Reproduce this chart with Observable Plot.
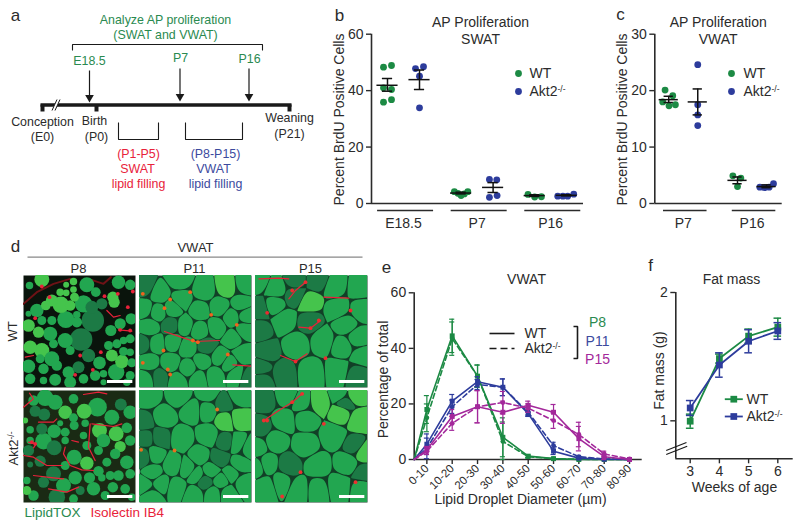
<!DOCTYPE html>
<html><head><meta charset="utf-8">
<script src="https://cdn.jsdelivr.net/npm/d3@7"></script>
<script src="https://cdn.jsdelivr.net/npm/@observablehq/plot@0.6"></script>
<style>
html,body{margin:0;padding:0;background:#fff;}
#fig{position:relative;width:800px;height:527px;overflow:hidden;font-family:"Liberation Sans",Arial,sans-serif;}
#fig svg{position:absolute;}
</style></head><body><div id="fig"></div>
<script>
// ---------- palette
const GREEN="#1c8a44",BLUE="#2d3c9c",PURPLE="#a3289b",RED="#e8223a",INK="#2b2b2b";
const TGREEN="#2a8a50",TBLUE="#3c4a9e";
const SHADES=["#1c7a45","#22a650","#45c44c"];

// ---------- panel b values (SWAT)
const swatGroups=["E18.5","P7","P16"];
const swatSlots=[0,1,2.3,3.3,4.6,5.6];
const swatValues=[[48.3,48.9,41,40.4,35.9,36.8],[47.8,48.5,45.1,33.9],[4.2,3.6,2.8,3.4,4.2],[8.5,8.4,2.2,2.8],[3.2,2.3,2.4],[2.6,2.6,2.6,3.3]];
const swatJitter=[[-.125,.125,-.125,.125,-.125,.125],[-.125,.125,0,0],[-.21,-.1,0,.1,.21],[-.115,.115,-.115,.125],[-.21,0,.21],[-.28,-.12,.03,.22]];
const swatMean=[41.9,43.9,3.7,5.7,2.8,2.9];
const swatLow=[39.8,40.4,3.4,3.9,2.5,2.7];
const swatHigh=[44.3,47.3,4.0,7.4,3.1,3.1];

// ---------- panel c values (VWAT)
const vwatGroups=["P7","P16"];
const vwatSlots=[0,1,2.37,3.37];
const vwatValues=[[20.1,19.1,18.0,17.3,17.5],[24.6,17.5,15.7,13.8],[4.9,4.5,3.0],[2.9,2.8,2.9,3.5]];
const vwatJitter=[[-.126,.138,-.207,.01,.23],[0,0,0,0],[-.16,.115,0],[-.23,-.07,.09,.24]];
const vwatMean=[18.4,18,4.1,3.0];
const vwatLow=[17.9,15.7,3.5,2.8];
const vwatHigh=[19.0,20.3,4.7,3.3];

// ---------- panel e values
const bins=["0-10","10-20","20-30","30-40","40-50","50-60","60-70","70-80","80-90"];
const p8Wt=[18,44.5,30,8,1.2,.3,0,0,0];
const p8Ko=[15,43.5,30,6.5,1,.3,.1,0,0];
const p8Err=[5,6,4,7,.5,.2,.1,0,0];
const p11Wt=[5.5,21,28,26,16.5,3,.5,.1,0];
const p11Ko=[4,19,27,26,17,5,1,.2,0];
const p11Err=[3.7,2.4,1.8,3,1,1.2,.4,.1,0];
const p15Wt=[3.5,15.5,19,17,19.5,17,7.5,1,0];
const p15Ko=[3,13,19,20.5,18.5,14,9,2,.2];
const p15Err=[1.2,2.5,5.8,4,1.5,2.8,4.4,1,.2];

// ---------- panel f values
const weeks=[3,4,5,6];
const fatWt=[.997,1.485,1.66,1.73];
const fatWtErr=[.055,.035,.055,.07];
const fatKo=[1.10,1.435,1.62,1.70];
const fatKoErr=[.058,.095,.09,.065];

// ---------- micrograph cells [x, y, shade] and droplets [x, y, radius, shade]
const p8WtDrops=[[55,12,20,2],[18,30,10,1],[150,18,10,2],[190,28,20,1],[217,50,13,1],[285,20,18,1],[320,28,14,1],[128,28,8,2],[150,42,9,2],[110,50,10,2],[128,52,9,2],[153,65,12,2],[85,75,16,2],[112,88,22,2],[67,90,13,2],[140,90,14,2],[180,85,23,1],[205,95,17,0],[268,65,15,2],[272,80,15,2],[235,85,15,0],[323,130,15,1],[40,105,18,1],[15,115,8,1],[15,150,17,2],[55,135,12,1],[85,135,12,1],[127,132,23,1],[160,118,10,1],[160,140,14,1],[208,135,30,0],[290,145,15,1],[45,170,15,2],[80,175,19,1],[125,195,20,1],[173,192,30,0],[20,215,18,2],[55,225,20,2],[90,205,12,1],[140,225,12,1],[262,165,15,1],[255,210,12,1],[280,205,12,1],[300,195,10,1],[320,190,12,1],[300,228,12,1],[265,240,16,2],[320,230,10,1],[195,240,18,0],[228,262,17,1],[295,258,18,2],[325,262,12,1],[15,272,18,1],[50,250,12,1],[85,250,20,1],[60,280,14,1],[100,270,14,1],[135,290,16,1],[165,275,16,0],[20,310,14,1],[95,313,16,1],[60,315,10,1],[140,320,16,1],[180,310,13,1],[215,300,14,1],[240,295,10,1],[278,290,22,1],[320,300,12,1],[240,320,8,1],[310,320,10,1]];
const p8WtSpots=[[55,33],[78,65],[243,62],[283,55],[328,48],[313,95],[290,163],[320,165],[170,240],[155,298],[232,230],[35,128],[208,283]];
const p8WtVeins=[[[285,163],[325,167]],[[250,105],[270,125],[290,120]],[[5,245],[30,240]]];
const p8WtFaint=[[[0,85],[40,50],[90,25],[140,10]],[[195,10],[240,25],[262,5]]];
const p8KoDrops=[[65,22,22,1],[30,30,14,1],[95,35,20,1],[150,25,13,1],[222,50,25,1],[292,42,16,0],[125,65,18,2],[182,62,20,2],[265,80,20,1],[320,65,18,1],[35,62,15,0],[62,72,16,0],[150,82,12,1],[5,90,8,2],[110,98,8,1],[185,98,10,1],[20,118,10,1],[55,115,15,0],[92,122,18,1],[125,125,12,1],[152,105,12,1],[228,120,20,2],[310,112,14,1],[278,130,20,2],[60,152,22,1],[20,150,10,1],[125,150,10,1],[180,135,10,1],[240,150,18,1],[290,168,15,2],[320,150,14,1],[92,172,20,0],[152,200,20,1],[190,165,12,1],[225,180,12,1],[275,190,14,1],[15,180,15,0],[50,212,15,0],[190,218,18,2],[310,215,18,1],[250,215,12,1],[90,250,20,0],[225,242,14,1],[125,225,12,1],[260,255,12,1],[285,255,14,1],[320,250,13,1],[20,222,8,0],[155,262,18,1],[198,262,15,1],[60,275,15,0],[120,285,20,1],[10,270,10,1],[235,262,10,1],[268,290,14,1],[305,295,13,1],[10,300,12,2],[210,295,18,1],[170,300,12,0],[100,320,22,0],[30,315,14,1],[150,325,12,1],[245,315,12,1],[325,320,10,1]];
const p8KoSpots=[[25,155],[35,160]];
const p8KoVeins=[[[0,50],[30,25],[18,8]],[[45,95],[90,95],[100,85]],[[15,155],[38,160],[30,172]],[[125,170],[120,190],[140,225],[175,238],[210,240]],[[200,100],[195,170],[215,210]],[[205,100],[270,108],[295,100]],[[30,255],[90,262],[120,265]],[[75,295],[130,305],[165,290]],[[145,150],[165,155]],[[0,195],[30,200],[70,225],[115,225]],[[180,12],[225,5],[250,10]]];
const p11WtCells=[[60,55,1],[125,72,1],[120,15,1],[195,45,1],[262,35,2],[315,30,1],[305,85,1],[240,95,1],[15,35,0],[15,100,1],[55,110,1],[100,100,1],[180,105,1],[275,125,1],[320,120,1],[30,155,1],[95,150,0],[135,150,1],[180,165,1],[232,155,1],[315,165,1],[282,190,1],[50,205,1],[100,200,1],[145,215,1],[200,215,0],[240,245,1],[190,255,1],[12,205,0],[30,260,1],[92,262,1],[145,280,1],[270,265,1],[310,235,1],[60,305,0],[20,310,1],[115,315,1],[175,310,1],[225,300,1],[290,295,1],[325,305,0]];
const p11WtSpots=[[152,50],[92,72],[75,98],[215,118],[292,148],[160,195],[175,200],[72,225],[265,237],[10,262],[85,282],[92,297],[10,55]];
const p11WtVeins=[[[75,168],[125,185],[165,198],[240,195]],[[280,268],[335,272]]];
const p15WtCells=[[60,40,1],[160,78,2],[240,35,1],[310,40,1],[55,88,1],[12,100,0],[88,135,1],[250,100,1],[270,145,1],[315,100,1],[12,165,0],[125,205,1],[200,195,1],[305,190,1],[262,215,1],[30,230,0],[318,240,1],[165,290,1],[85,295,0],[250,285,1],[15,275,0],[20,315,0],[300,295,0],[160,140,0],[120,15,0],[185,15,0],[10,20,1],[120,60,0]];
const p15WtSpots=[[165,158],[35,112],[150,20],[110,45],[190,135],[120,258],[210,248],[285,105]];
const p15WtVeins=[[[10,10],[70,8],[100,10]],[[150,20],[120,45],[100,70]],[[130,155],[165,158],[195,135]],[[205,65],[280,68]],[[75,240],[120,258],[155,235]]];
const p11KoCells=[[25,20,1],[120,15,1],[205,8,1],[295,20,1],[70,80,1],[160,60,1],[200,60,1],[255,38,0],[260,90,2],[295,85,2],[15,95,0],[128,145,1],[205,135,1],[258,155,0],[295,160,1],[60,140,0],[20,140,0],[325,175,1],[180,195,1],[240,205,0],[45,195,1],[15,200,0],[100,225,1],[145,235,1],[215,240,1],[300,220,1],[40,245,1],[170,255,1],[65,280,1],[110,290,1],[195,275,0],[245,270,1],[275,250,1],[15,285,1],[35,315,1],[165,310,1],[220,310,1],[310,280,1],[265,310,1]];
const p11KoSpots=[[233,57],[105,180],[5,178]];
const p15KoCells=[[25,30,0],[95,15,1],[190,35,2],[255,10,1],[295,15,2],[140,35,1],[270,35,0],[85,90,1],[150,85,1],[258,70,2],[308,90,2],[15,110,0],[235,135,1],[60,150,1],[150,165,1],[298,165,0],[325,185,2],[5,170,1],[35,220,1],[100,225,0],[185,225,1],[275,220,1],[5,230,1],[30,290,1],[80,275,1],[130,295,1],[185,295,1],[250,285,1],[318,290,1],[325,250,0]];
const p15KoSpots=[[140,10],[25,90],[205,100],[80,318],[135,245],[300,275],[35,90],[110,35]];
const p15KoVeins=[[[25,90],[70,60],[110,35],[140,10]]];

// ---------- helpers
const fig=document.getElementById("fig");
function place(left,top,opts,filter){
  const el=Plot.plot({...opts,style:{background:"transparent",fontFamily:"'Liberation Sans',Arial,sans-serif",overflow:"visible",...(filter?{filter}:{})}});
  el.style.left=left+"px";el.style.top=top+"px";
  fig.appendChild(el);
  return el;
}
// Voronoi outline of each cell seed, pulled in a little and with its corners rounded
function cellOutlines(cells){
  const v=d3.Delaunay.from(cells,d=>d[0],d=>d[1]).voronoi([-30,-30,366,366]);
  return cells.flatMap((cell,id)=>{
    const poly=v.cellPolygon(id).slice(0,-1);
    const [cx,cy]=d3.polygonCentroid(poly);
    const p=poly.map(([x,y])=>[cx+(x-cx)*.975,cy+(y-cy)*.975]);
    return p.flatMap((a,i)=>{
      const b=p[(i+1)%p.length];
      return [.2,.8].map(t=>({id,x:a[0]+(b[0]-a[0])*t,y:a[1]+(b[1]-a[1])*t,c:SHADES[cell[2]]}));
    });
  });
}
function micro(left,top,{cells,drops,veins=[],faint=[],spots=[],spotFill=RED,bg="#123f27"}){
  const marks=[Plot.frame({fill:bg,stroke:null})];
  if(cells) marks.push(Plot.line(cellOutlines(cells),{x:"x",y:"y",z:"id",fill:"c",stroke:"none",curve:"basis-closed",clip:true}));
  for(const v of faint) marks.push(Plot.line(v,{x:d=>d[0],y:d=>d[1],stroke:"#6e1216",strokeWidth:2,clip:true}));
  if(drops) marks.push(Plot.dot(drops,{x:d=>d[0],y:d=>d[1],r:d=>d[2]/3*1.12,fill:d=>SHADES[d[3]],clip:true}));
  for(const v of veins) marks.push(Plot.line(v,{x:d=>d[0],y:d=>d[1],stroke:RED,strokeWidth:1.2,clip:true}));
  marks.push(Plot.dot(spots,{x:d=>d[0],y:d=>d[1],r:1.9,fill:spotFill,clip:true}));
  marks.push(Plot.ruleY([318],{x1:()=>252,x2:()=>328,stroke:"white",strokeWidth:3}));
  place(left,top,{width:112,height:112,margin:0,x:{domain:[0,336],range:[0,112],axis:null},y:{domain:[0,336],range:[0,112],axis:null},color:{type:"identity"},r:{type:"identity"},marks},"blur(0.4px)");
}
function dotPanel(left,top,w,h,m,xDomain,yMax,yTicks,groups,slots,values,jitter,mean,low,high,bars){
  const points=values.flatMap((vs,i)=>vs.map((v,j)=>({x:slots[i]+jitter[i][j],y:v,k:i%2?"Akt":"WT"})));
  const summary=slots.map((s,i)=>({x:s,mean:mean[i],low:low[i],high:high[i]}));
  const groupData=groups.map((g,i)=>({g,a:slots[i*2]+bars[0],b:slots[i*2+1]+bars[1],c:(slots[i*2]+slots[i*2+1])/2}));
  place(left,top,{width:w,height:h,marginLeft:m[0],marginTop:m[1],marginRight:m[2],marginBottom:m[3],
    x:{domain:xDomain,axis:null},y:{domain:[0,yMax],axis:null},
    marks:[
      Plot.axisY({ticks:yTicks,tickSize:5,tickPadding:3,label:null,fontSize:14,color:INK,strokeWidth:1.4}),
      Plot.ruleX([xDomain[0]],{y1:0,y2:yMax,stroke:INK,strokeWidth:1.6}),
      Plot.ruleY([0],{stroke:INK,strokeWidth:1.6}),
      Plot.ruleY(groupData,{y:()=>0,x1:"a",x2:"b",dy:7,stroke:INK,strokeWidth:1.4}),
      Plot.text(groupData,{x:"c",y:()=>0,text:"g",dy:20,fontSize:14,fill:INK}),
      Plot.dot(points,{x:"x",y:"y",r:3.4,fill:d=>d.k==="WT"?GREEN:BLUE}),
      Plot.ruleY(summary,{y:"mean",x1:d=>d.x-.33,x2:d=>d.x+.33,stroke:"#111",strokeWidth:1.5}),
      Plot.ruleX(summary,{x:"x",y1:"low",y2:"high",stroke:"#111",strokeWidth:1.5}),
      Plot.ruleY(summary,{y:"high",x1:d=>d.x-.16,x2:d=>d.x+.16,stroke:"#111",strokeWidth:1.5}),
      Plot.ruleY(summary,{y:"low",x1:d=>d.x-.16,x2:d=>d.x+.16,stroke:"#111",strokeWidth:1.5})
    ]});
}

// ---------- panels b, c
dotPanel(320,0,265,232,[51,33.7,2,29],[-.5,6.125],60,[0,20,40,60],swatGroups,swatSlots,swatValues,swatJitter,swatMean,swatLow,swatHigh,[-.31,.44]);
dotPanel(585,0,200,232,[69.3,33.7,3.3,29],[-.48,3.91],30,[0,10,20,30],vwatGroups,vwatSlots,vwatValues,vwatJitter,vwatMean,vwatLow,vwatHigh,[-.18,.32]);

// ---------- panel d micrographs
micro(23,275,{drops:p8WtDrops,spots:p8WtSpots,veins:p8WtVeins,faint:p8WtFaint,bg:"#0a140c"});
micro(139,275,{cells:p11WtCells,spots:p11WtSpots,veins:p11WtVeins,spotFill:"#f0641e"});
micro(255,275,{cells:p15WtCells,spots:p15WtSpots,veins:p15WtVeins,spotFill:"#ee2a30"});
micro(23,390,{drops:p8KoDrops,spots:p8KoSpots,veins:p8KoVeins,bg:"#1a2a14"});
micro(139,390,{cells:p11KoCells,spots:p11KoSpots,spotFill:"#e8701e"});
micro(255,390,{cells:p15KoCells,spots:p15KoSpots,veins:p15KoVeins,spotFill:"#ee3030"});

// ---------- panel e
const eSeries=[["P8","WT",p8Wt,p8Err,GREEN],["P8","KO",p8Ko,p8Err,GREEN],["P11","WT",p11Wt,p11Err,BLUE],["P11","KO",p11Ko,p11Err,BLUE],["P15","WT",p15Wt,p15Err,PURPLE],["P15","KO",p15Ko,p15Err,PURPLE]];
const eMarks=[];
for(const [age,geno,vals,errs,color] of eSeries){
  const pts=vals.map((v,i)=>({x:i,y:v,lo:Math.max(0,v-errs[i]),hi:v+errs[i]}));
  const dash=geno==="KO"?"5,3":null;
  eMarks.push(Plot.line([{x:-.5,y:0},...pts],{x:"x",y:"y",stroke:color,strokeWidth:1.6,strokeDasharray:dash}));
  eMarks.push(Plot.ruleX(pts,{x:"x",y1:"lo",y2:"hi",stroke:color,strokeWidth:1.2}));
  eMarks.push(Plot.ruleY(pts,{y:"hi",x1:d=>d.x-.1,x2:d=>d.x+.1,stroke:color,strokeWidth:1.2}));
  eMarks.push(Plot.ruleY(pts,{y:"lo",x1:d=>d.x-.1,x2:d=>d.x+.1,stroke:color,strokeWidth:1.2}));
  eMarks.push(Plot.dot(pts,{x:"x",y:"y",r:geno==="KO"?2.4:2.8,symbol:geno==="KO"?"circle":"square",fill:color}));
}
place(380,280,{width:265,height:230,marginLeft:33.7,marginTop:12.3,marginRight:3.3,marginBottom:51,
  x:{domain:[-.5,8.5],axis:null},y:{domain:[0,60],axis:null},
  marks:[
    Plot.axisY({ticks:[0,20,40,60],tickSize:5,tickPadding:3,label:null,fontSize:14,color:INK,strokeWidth:1.4}),
    Plot.axisX({ticks:d3.range(9),tickFormat:i=>bins[i],tickRotate:-45,tickSize:5,tickPadding:2,label:null,fontSize:11.5,color:INK,strokeWidth:1.4}),
    Plot.ruleX([-.5],{y1:0,y2:60,stroke:INK,strokeWidth:1.6}),
    Plot.ruleY([0],{stroke:INK,strokeWidth:1.6}),
    ...eMarks
  ]});

// ---------- panel f
const fMarks=[];
for(const [vals,errs,color] of [[fatWt,fatWtErr,GREEN],[fatKo,fatKoErr,BLUE]]){
  const pts=weeks.map((w,i)=>({x:w,y:vals[i],lo:vals[i]-errs[i],hi:vals[i]+errs[i]}));
  fMarks.push(Plot.ruleX(pts,{x:"x",y1:"lo",y2:"hi",stroke:color,strokeWidth:1.5}));
  fMarks.push(Plot.ruleY(pts,{y:"hi",x1:d=>d.x-.13,x2:d=>d.x+.13,stroke:color,strokeWidth:1.5}));
  fMarks.push(Plot.ruleY(pts,{y:"lo",x1:d=>d.x-.13,x2:d=>d.x+.13,stroke:color,strokeWidth:1.5}));
  fMarks.push(Plot.line(pts,{x:"x",y:"y",stroke:color,strokeWidth:1.8}));
  fMarks.push(Plot.dot(pts,{x:"x",y:"y",symbol:"square",r:3.8,fill:color}));
}
const fDomain=[2.507,6.527];
place(640,280,{width:160,height:210,marginLeft:35.3,marginTop:12,marginRight:7.3,marginBottom:31.7,
  x:{domain:fDomain,axis:null},y:{domain:[.704,2],axis:null},
  marks:[
    Plot.axisY({ticks:[1,2],tickFormat:d3.format("d"),tickSize:5,tickPadding:3,label:null,fontSize:14,color:INK,strokeWidth:1.4}),
    Plot.axisX({ticks:weeks,tickFormat:d3.format("d"),tickSize:5,tickPadding:2,label:null,fontSize:14,color:INK,strokeWidth:1.4}),
    Plot.ruleX([fDomain[0]],{y1:.704,y2:2,stroke:INK,strokeWidth:1.6}),
    Plot.ruleY([.704],{stroke:INK,strokeWidth:1.6}),
    ...fMarks
  ]});

// ---------- annotation layer (figure-wide coordinate frame): timeline, labels, legends
const T=(text,x,y,o={})=>({text,x,y,size:14,fill:INK,anchor:"middle",rotate:0,...o});
const S=12.4;
const labels=[
  T("a",15,15,{size:17}),T("b",339,15,{size:17}),T("c",620,14,{size:17}),T("d",15,246,{size:17}),T("e",386,267,{size:17}),T("f",650,265,{size:17}),
  T("Analyze AP proliferation",165,20,{size:S,fill:TGREEN}),T("(SWAT and VWAT)",165,35,{size:S,fill:TGREEN}),
  T("E18.5",89,61,{size:S,fill:TGREEN}),T("P7",180,58,{size:S,fill:TGREEN}),T("P16",249,59,{size:S,fill:TGREEN}),
  T("Conception",42,122,{size:S}),T("(E0)",42,137,{size:S}),T("Birth",94,121,{size:S}),T("(P0)",96,137,{size:S}),
  T("Weaning",289,118,{size:S}),T("(P21)",289,134,{size:S}),
  T("(P1-P5)",138,154,{size:S,fill:RED}),T("SWAT",137,169,{size:S,fill:RED}),T("lipid filling",138,184,{size:S,fill:RED}),
  T("(P8-P15)",215,154,{size:S,fill:TBLUE}),T("VWAT",213,169,{size:S,fill:TBLUE}),T("lipid filling",215,184,{size:S,fill:TBLUE}),
  T("AP Proliferation",480,22),T("SWAT",480,39),T("Percent BrdU Positive Cells",339,119,{rotate:-90}),
  T("WT",529,73,{anchor:"start"}),T("Akt2-/-",529,91,{anchor:"start"}),
  T("AP Proliferation",717.7,22),T("VWAT",717.7,39),T("Percent BrdU Positive Cells",622,119,{rotate:-90}),
  T("WT",743,73,{anchor:"start"}),T("Akt2-/-",743,91,{anchor:"start"}),
  T("VWAT",195,247,{size:13}),T("P8",78,268,{size:13}),T("P11",194,268,{size:13}),T("P15",310,268,{size:13}),
  T("WT",12,331,{size:13,rotate:-90}),T("Akt2-/-",13,448,{size:13,rotate:-90}),
  T("LipidTOX",24,512,{size:13.5,anchor:"start",fill:TGREEN}),T("Isolectin IB4",90,512,{size:13.5,anchor:"start",fill:RED}),
  T("VWAT",526,279),T("Percentage of total",383,379,{rotate:-90}),T("Lipid Droplet Diameter (µm)",520,499),
  T("WT",524,333,{anchor:"start"}),T("Akt2-/-",524,348,{anchor:"start"}),
  T("P8",597,322,{fill:TGREEN}),T("P11",597,341,{fill:TBLUE}),T("P15",597,359,{fill:PURPLE}),
  T("Fat mass",731,279),T("Fat mass (g)",659,370,{rotate:-90}),T("Weeks of age",734,487),
  T("WT",746,399,{anchor:"start"}),T("Akt2-/-",746,416,{anchor:"start"})
];
const polylines=[
  {pts:[[72,50],[72,44],[262,44],[262,50]],w:1.1,c:"#1a1a1a"},
  {pts:[[118,122],[118,139],[158,139],[158,122]],w:1.1,c:"#1a1a1a"},
  {pts:[[185,122],[185,139],[242,139],[242,122]],w:1.1,c:"#1a1a1a"},
  {pts:[[40,104.5],[291,104.5]],w:3.6,c:"#1a1a1a"},
  {pts:[[42,104],[42,111]],w:4,c:"#1a1a1a"},{pts:[[96,104],[96,111]],w:4,c:"#1a1a1a"},{pts:[[289,104],[289,111]],w:4,c:"#1a1a1a"},
  {pts:[[53,110],[58,99]],w:3,c:"#fff"},
  {pts:[[51.5,110],[56.5,99]],w:1,c:"#1a1a1a"},{pts:[[54.5,110],[59.5,99]],w:1,c:"#1a1a1a"},
  {pts:[[89,70],[89,95]],w:1.2,c:"#1a1a1a"},{pts:[[179.5,68],[179.5,94]],w:1.2,c:"#1a1a1a"},{pts:[[248.5,68],[248.5,94]],w:1.2,c:"#1a1a1a"},
  {pts:[[27,256.7],[362,256.7]],w:1.3,c:"#888"},
  {pts:[[489,333],[514,333]],w:1.6,c:"#1a1a1a"},
  {pts:[[489,348],[514,348]],w:1.6,c:"#1a1a1a",d:"7,4"},
  {pts:[[573,326],[577,326],[577,358],[573,358]],w:1.6,c:"#1a1a1a"},
  {pts:[[665.7,450],[686,442]],w:1.2,c:"#1a1a1a"},{pts:[[665.7,454],[686.7,445.7]],w:1.2,c:"#1a1a1a"},
  {pts:[[724.3,398.7],[742.3,398.7]],w:1.8,c:GREEN},{pts:[[724.3,416],[742.3,416]],w:1.8,c:BLUE}
];
const arrowTips=[[89,97],[179.5,96],[248.5,96]];
const legendDots=[[518,73,GREEN],[518,91,BLUE],[731,73,GREEN],[731,91,BLUE]];
const legendSquares=[[733.3,398.7,GREEN],[733.3,416,BLUE]];
const overlay=place(0,0,{width:800,height:527,margin:0,
  x:{domain:[0,800],range:[0,800],axis:null},y:{domain:[0,527],range:[0,527],axis:null},
  marks:[
    ...polylines.map(p=>Plot.line(p.pts,{x:d=>d[0],y:d=>d[1],stroke:p.c,strokeWidth:p.w,strokeDasharray:p.d,strokeLinejoin:"miter",strokeLinecap:"butt"})),
    Plot.dot(arrowTips,{x:d=>d[0],y:d=>d[1],symbol:"triangle",rotate:180,r:3.2,fill:"#1a1a1a"}),
    Plot.dot(legendDots,{x:d=>d[0],y:d=>d[1],r:3.4,fill:d=>d[2]}),
    Plot.dot(legendSquares,{x:d=>d[0],y:d=>d[1],symbol:"square",r:3.8,fill:d=>d[2]}),
    ...d3.groups(labels,d=>d.anchor,d=>d.rotate).flatMap(([anchor,byRot])=>byRot.map(([rotate,rows])=>
      Plot.text(rows,{x:"x",y:"y",text:"text",fontSize:"size",fill:"fill",textAnchor:anchor,rotate}))),
  ]});
overlay.style.pointerEvents="none";

// superscript for the knockout genotype, kept as live text
fig.querySelectorAll("svg text").forEach(t=>{
  if(t.textContent==="Akt2-/-"){
    t.textContent="";
    const NS="http://www.w3.org/2000/svg";
    const a=document.createElementNS(NS,"tspan");a.textContent="Akt2";
    const b=document.createElementNS(NS,"tspan");b.textContent="-/-";
    b.setAttribute("dy","-4");b.setAttribute("font-size","8.5");
    t.append(a,b);
  }
});
</script></body></html>
